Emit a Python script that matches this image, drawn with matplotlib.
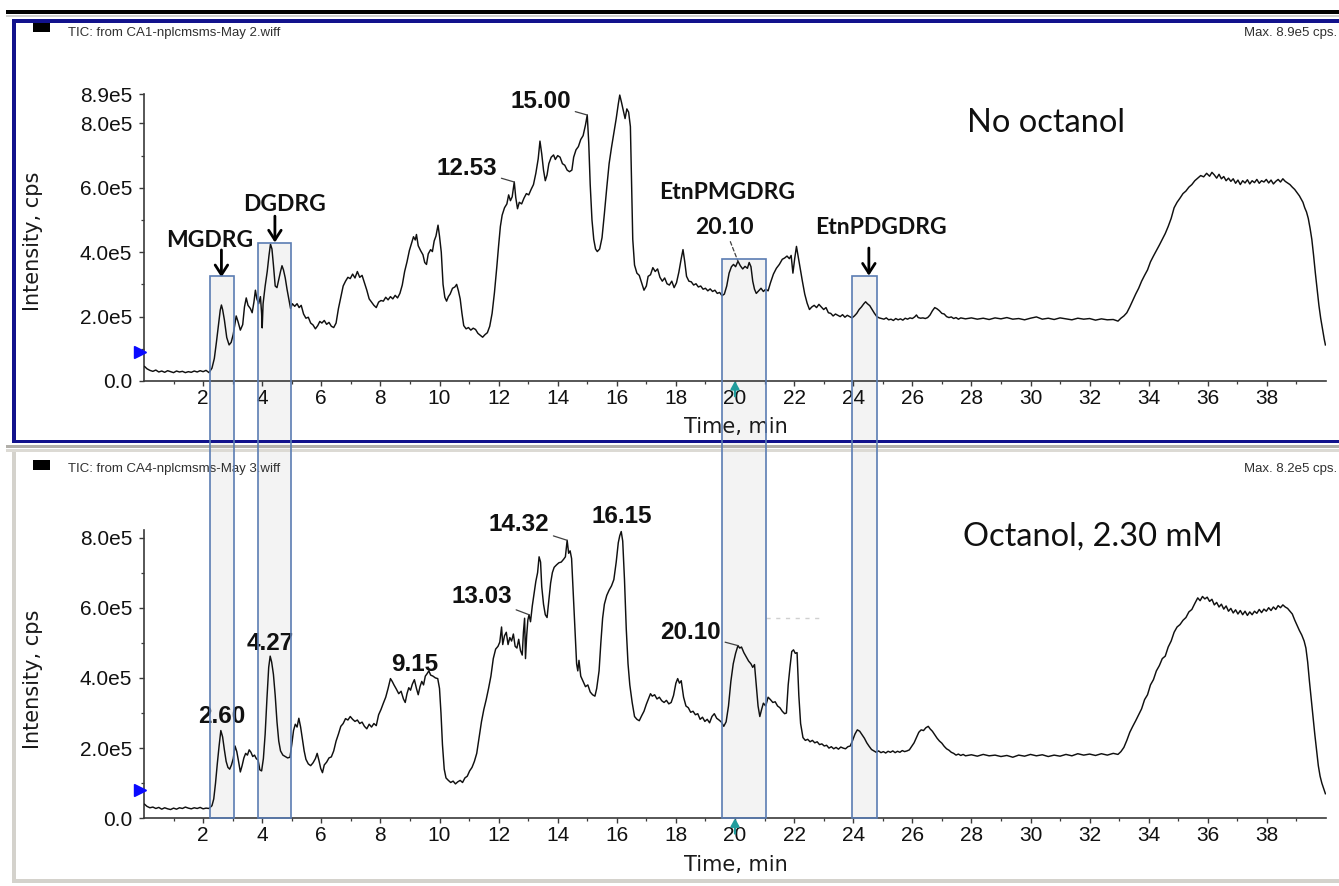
import numpy as np
import matplotlib
matplotlib.use("Agg")
import matplotlib.pyplot as plt
from matplotlib.patches import Rectangle
from matplotlib.transforms import offset_copy

# ---------------------------------------------------------------- data
# TIC trace without octanol (time in min, intensity in units of 1e5 cps)
top_time = [
    0.02, 0.10, 0.20, 0.30, 0.40, 0.50, 0.60, 0.70, 0.80, 0.90, 1.00, 1.10, 1.20, 1.30, 1.40,
    1.50, 1.60, 1.70, 1.80, 1.90, 2.00, 2.10, 2.20, 2.30, 2.38, 2.45, 2.52, 2.58, 2.62, 2.66,
    2.72, 2.80, 2.88, 2.95, 3.02, 3.08, 3.12, 3.18, 3.26, 3.34, 3.40, 3.46, 3.52, 3.60, 3.66,
    3.72, 3.77, 3.82, 3.88, 3.94, 3.98, 4.00, 4.03, 4.10, 4.17, 4.23, 4.28, 4.33, 4.38, 4.44,
    4.50, 4.56, 4.62, 4.67, 4.72, 4.78, 4.84, 4.90, 4.96, 5.02, 5.10, 5.18, 5.25, 5.32, 5.40,
    5.48, 5.56, 5.64, 5.72, 5.80, 5.88, 5.95, 6.02, 6.10, 6.18, 6.26, 6.34, 6.42, 6.50, 6.58,
    6.66, 6.74, 6.82, 6.90, 6.98, 7.06, 7.14, 7.22, 7.30, 7.38, 7.46, 7.54, 7.62, 7.70, 7.78,
    7.86, 7.94, 8.02, 8.10, 8.18, 8.26, 8.34, 8.42, 8.50, 8.58, 8.66, 8.74, 8.82, 8.90, 8.98,
    9.06, 9.12, 9.18, 9.22, 9.28, 9.36, 9.44, 9.50, 9.56, 9.62, 9.70, 9.76, 9.82, 9.88, 9.95,
    10.00, 10.06, 10.12, 10.18, 10.24, 10.30, 10.36, 10.44, 10.52, 10.58, 10.64, 10.70, 10.76,
    10.82, 10.90, 10.98, 11.06, 11.14, 11.22, 11.30, 11.38, 11.46, 11.54, 11.62, 11.70, 11.78,
    11.86, 11.94, 12.00, 12.06, 12.12, 12.20, 12.28, 12.34, 12.40, 12.46, 12.53, 12.58, 12.64,
    12.70, 12.78, 12.86, 12.94, 13.02, 13.10, 13.18, 13.26, 13.34, 13.40, 13.46, 13.52, 13.58,
    13.64, 13.70, 13.78, 13.86, 13.92, 14.00, 14.08, 14.16, 14.24, 14.32, 14.40, 14.48, 14.54,
    14.62, 14.70, 14.78, 14.86, 14.94, 15.00, 15.05, 15.10, 15.16, 15.22, 15.28, 15.34, 15.42,
    15.50, 15.58, 15.66, 15.74, 15.82, 15.90, 15.98, 16.05, 16.10, 16.16, 16.22, 16.28, 16.34,
    16.40, 16.46, 16.50, 16.54, 16.60, 16.68, 16.76, 16.84, 16.92, 17.00, 17.06, 17.14, 17.22,
    17.30, 17.38, 17.46, 17.54, 17.62, 17.70, 17.78, 17.86, 17.94, 18.02, 18.10, 18.18, 18.24,
    18.30, 18.36, 18.44, 18.52, 18.60, 18.68, 18.76, 18.84, 18.92, 19.00, 19.08, 19.16, 19.24,
    19.32, 19.40, 19.48, 19.56, 19.64, 19.72, 19.80, 19.88, 19.95, 20.02, 20.10, 20.18, 20.26,
    20.34, 20.42, 20.48, 20.54, 20.60, 20.66, 20.72, 20.80, 20.88, 20.96, 21.04, 21.12, 21.20,
    21.30, 21.40, 21.50, 21.60, 21.68, 21.76, 21.84, 21.90, 21.96, 22.02, 22.08, 22.14, 22.20,
    22.28, 22.36, 22.44, 22.52, 22.60, 22.68, 22.76, 22.84, 22.92, 23.00, 23.08, 23.16, 23.24,
    23.32, 23.40, 23.48, 23.56, 23.64, 23.72, 23.80, 23.88, 23.96, 24.04, 24.12, 24.20, 24.28,
    24.36, 24.42, 24.48, 24.56, 24.64, 24.72, 24.80, 24.88, 24.96, 25.04, 25.12, 25.20, 25.28,
    25.36, 25.44, 25.52, 25.60, 25.68, 25.76, 25.84, 25.92, 26.00, 26.08, 26.14, 26.20, 26.28,
    26.36, 26.44, 26.52, 26.60, 26.68, 26.76, 26.84, 26.92, 27.00, 27.08, 27.16, 27.24, 27.32,
    27.40, 27.48, 27.56, 27.64, 27.80, 28.00, 28.20, 28.40, 28.60, 28.80, 29.00, 29.20, 29.40,
    29.60, 29.80, 30.00, 30.20, 30.40, 30.60, 30.80, 31.00, 31.20, 31.40, 31.60, 31.80, 32.00,
    32.20, 32.40, 32.60, 32.80, 32.96, 33.06, 33.16, 33.26, 33.36, 33.46, 33.56, 33.66, 33.76,
    33.86, 33.96, 34.06, 34.16, 34.26, 34.36, 34.46, 34.56, 34.66, 34.76, 34.86, 34.96, 35.06,
    35.16, 35.26, 35.36, 35.46, 35.56, 35.66, 35.76, 35.86, 35.96, 36.06, 36.14, 36.22, 36.30,
    36.38, 36.46, 36.54, 36.62, 36.70, 36.78, 36.86, 36.94, 37.02, 37.10, 37.18, 37.26, 37.34,
    37.42, 37.50, 37.58, 37.66, 37.74, 37.82, 37.90, 37.98, 38.06, 38.14, 38.22, 38.30, 38.38,
    38.46, 38.54, 38.62, 38.70, 38.78, 38.86, 38.94, 39.02, 39.10, 39.16, 39.22, 39.28, 39.34,
    39.40, 39.46, 39.52, 39.58, 39.64, 39.70, 39.76, 39.82, 39.88, 39.94, 39.98,
]
top_intensity_e5 = [
    0.45, 0.38, 0.33, 0.30, 0.34, 0.28, 0.31, 0.27, 0.32, 0.29, 0.26, 0.31, 0.28, 0.30, 0.26,
    0.29, 0.27, 0.31, 0.28, 0.32, 0.29, 0.33, 0.26, 0.40, 0.70, 1.20, 1.75, 2.20, 2.36, 2.22,
    1.90, 1.35, 1.12, 1.20, 1.45, 1.80, 2.02, 1.85, 1.58, 1.75, 2.30, 2.58, 2.35, 2.25, 2.12,
    2.45, 2.82, 2.55, 2.40, 2.62, 2.10, 1.65, 2.40, 2.95, 3.40, 3.90, 4.25, 4.10, 3.60, 2.95,
    2.90, 3.15, 3.40, 3.58, 3.45, 3.20, 2.85, 2.55, 2.25, 2.40, 2.32, 2.40, 2.28, 2.35, 2.08,
    1.95, 1.98, 1.80, 1.74, 1.62, 1.72, 1.85, 1.80, 1.88, 1.76, 1.82, 1.70, 1.66, 1.80, 2.25,
    2.60, 2.95, 3.10, 3.22, 3.18, 3.32, 3.20, 3.40, 3.22, 3.28, 3.05, 2.82, 2.55, 2.45, 2.35,
    2.28, 2.45, 2.50, 2.48, 2.60, 2.52, 2.62, 2.55, 2.66, 2.58, 2.72, 2.98, 3.40, 3.70, 4.05,
    4.30, 4.48, 4.38, 4.55, 4.20, 4.05, 3.92, 3.68, 3.62, 3.95, 4.08, 4.02, 4.35, 4.50, 4.84,
    4.50, 4.00, 3.00, 2.60, 2.48, 2.62, 2.70, 2.88, 2.92, 3.00, 2.80, 2.55, 2.10,
    1.72, 1.62, 1.66, 1.58, 1.64, 1.60, 1.48, 1.42, 1.36, 1.44, 1.50, 1.70, 2.10,
    2.75, 3.55, 4.20, 4.80, 5.15, 5.38, 5.50, 5.78, 5.60, 5.72, 6.18, 5.70, 5.35,
    5.55, 5.50, 5.68, 5.82, 5.78, 5.95, 6.10, 6.45, 6.90, 7.45, 7.05, 6.55, 6.22,
    6.40, 6.75, 6.95, 7.02, 6.88, 7.00, 6.95, 6.75, 6.70, 6.55, 6.50, 6.55, 6.95,
    7.18, 7.28, 7.50, 7.62, 7.95, 8.26, 7.40, 6.10, 5.00, 4.40, 4.10, 4.02, 4.10,
    4.45, 5.20, 6.00, 6.75, 7.25, 7.70, 8.15, 8.60, 8.88, 8.65, 8.40, 8.15, 8.45,
    8.35, 7.90, 6.20, 4.40, 3.60, 3.35, 3.28, 3.05, 2.82, 2.95, 3.25, 3.30, 3.52,
    3.40, 3.48, 3.22, 3.10, 3.20, 3.02, 2.98, 3.10, 2.90, 3.05, 3.38, 3.80, 4.08,
    3.70, 3.25, 3.10, 3.08, 2.98, 3.02, 2.92, 2.95, 2.85, 2.88, 2.80, 2.86, 2.78,
    2.82, 2.72, 2.75, 2.65, 2.70, 2.95, 3.35, 3.55, 3.62, 3.55, 3.72, 3.58, 3.48,
    3.56, 3.50, 3.68, 3.55, 3.10, 2.85, 2.72, 2.80, 2.88, 2.78, 2.85, 2.80, 3.05,
    3.32, 3.50, 3.62, 3.78, 3.82, 3.88, 3.80, 3.90, 3.35, 3.80, 4.18, 3.85, 3.50,
    3.10, 2.70, 2.42, 2.22, 2.30, 2.35, 2.28, 2.38, 2.30, 2.22, 2.28, 2.12, 2.10,
    2.02, 2.08, 2.04, 2.00, 2.06, 1.98, 2.04, 2.00, 1.96, 2.02, 2.10, 2.22, 2.30,
    2.40, 2.46, 2.40, 2.34, 2.22, 2.10, 2.00, 1.96, 1.94, 1.92, 1.96, 1.90, 1.92,
    1.88, 1.94, 1.90, 1.93, 1.89, 1.95, 1.92, 1.96, 1.94, 1.99, 2.05, 1.97, 1.95,
    1.96, 1.94, 1.97, 2.05, 2.18, 2.28, 2.24, 2.18, 2.10, 2.08, 2.00, 1.97, 1.99,
    1.94, 1.97, 1.92, 1.96, 1.93, 1.96, 1.92, 1.95, 1.91, 1.96, 1.93, 1.97, 1.92,
    1.94, 1.90, 1.95, 1.99, 1.92, 1.95, 1.91, 1.96, 1.93, 1.90, 1.95, 1.92, 1.94,
    1.89, 1.93, 1.90, 1.91, 1.86, 1.95, 2.02, 2.12, 2.30, 2.50, 2.70, 2.88, 3.10,
    3.28, 3.45, 3.70, 3.88, 4.05, 4.22, 4.40, 4.58, 4.80, 5.05, 5.38, 5.55, 5.68,
    5.82, 5.90, 6.02, 6.10, 6.22, 6.30, 6.38, 6.34, 6.45, 6.36, 6.48, 6.40, 6.30,
    6.42, 6.28, 6.35, 6.22, 6.30, 6.20, 6.28, 6.14, 6.24, 6.10, 6.22, 6.15, 6.25,
    6.12, 6.22, 6.16, 6.26, 6.14, 6.22, 6.18, 6.26, 6.15, 6.24, 6.12, 6.20, 6.26,
    6.18, 6.28, 6.20, 6.15, 6.10, 6.02, 5.95, 5.85, 5.75, 5.65, 5.55, 5.38, 5.25,
    5.05, 4.75, 4.40, 3.90, 3.35, 2.85, 2.35, 1.95, 1.62, 1.30, 1.12,
]

# TIC trace with 2.30 mM octanol (time in min, intensity in units of 1e5 cps)
bottom_time = [
    0.02, 0.10, 0.20, 0.30, 0.40, 0.50, 0.60, 0.70, 0.80, 0.90, 1.00, 1.10, 1.20, 1.30, 1.40,
    1.50, 1.60, 1.70, 1.80, 1.90, 2.00, 2.10, 2.20, 2.30, 2.36, 2.42, 2.48, 2.54, 2.60, 2.66,
    2.72, 2.78, 2.84, 2.90, 2.96, 3.02, 3.08, 3.14, 3.20, 3.26, 3.32, 3.38, 3.44, 3.50, 3.56,
    3.62, 3.68, 3.74, 3.80, 3.86, 3.92, 3.98, 4.04, 4.10, 4.16, 4.22, 4.27, 4.32, 4.38, 4.44,
    4.50, 4.56, 4.62, 4.70, 4.78, 4.86, 4.94, 5.00, 5.06, 5.12, 5.18, 5.24, 5.30, 5.36, 5.42,
    5.48, 5.56, 5.64, 5.72, 5.80, 5.86, 5.92, 5.98, 6.04, 6.10, 6.18, 6.26, 6.34, 6.42, 6.50,
    6.58, 6.66, 6.74, 6.82, 6.90, 6.98, 7.06, 7.14, 7.22, 7.30, 7.38, 7.46, 7.54, 7.62, 7.70,
    7.78, 7.86, 7.94, 8.02, 8.10, 8.18, 8.26, 8.34, 8.40, 8.46, 8.54, 8.62, 8.70, 8.78, 8.84,
    8.90, 8.96, 9.02, 9.08, 9.15, 9.22, 9.28, 9.34, 9.40, 9.46, 9.52, 9.58, 9.64, 9.70, 9.78,
    9.86, 9.94, 10.00, 10.05, 10.10, 10.16, 10.22, 10.30, 10.38, 10.46, 10.54, 10.62, 10.70,
    10.78, 10.86, 10.94, 11.02, 11.10, 11.18, 11.26, 11.34, 11.42, 11.50, 11.58, 11.66, 11.74,
    11.82, 11.90, 11.98, 12.04, 12.10, 12.14, 12.20, 12.26, 12.32, 12.38, 12.44, 12.50, 12.56,
    12.62, 12.68, 12.74, 12.80, 12.84, 12.88, 12.91, 12.95, 12.99, 13.03, 13.08, 13.14, 13.20,
    13.26, 13.32, 13.37, 13.42, 13.46, 13.52, 13.58, 13.64, 13.70, 13.76, 13.82, 13.88, 13.96,
    14.04, 14.12, 14.20, 14.26, 14.32, 14.37, 14.42, 14.47, 14.52, 14.58, 14.64, 14.68, 14.72,
    14.78, 14.86, 14.94, 15.02, 15.10, 15.18, 15.26, 15.32, 15.40, 15.46, 15.52, 15.58, 15.66,
    15.74, 15.82, 15.90, 15.98, 16.05, 16.10, 16.15, 16.20, 16.26, 16.32, 16.38, 16.44, 16.52,
    16.60, 16.68, 16.76, 16.84, 16.92, 17.00, 17.08, 17.14, 17.20, 17.28, 17.36, 17.44, 17.52,
    17.60, 17.68, 17.76, 17.84, 17.92, 18.00, 18.06, 18.12, 18.18, 18.26, 18.34, 18.42, 18.50,
    18.58, 18.66, 18.74, 18.82, 18.90, 18.98, 19.06, 19.14, 19.22, 19.30, 19.38, 19.46, 19.54,
    19.62, 19.70, 19.78, 19.86, 19.94, 20.02, 20.10, 20.16, 20.22, 20.30, 20.38, 20.46, 20.54,
    20.60, 20.66, 20.72, 20.78, 20.84, 20.90, 20.96, 21.04, 21.12, 21.20, 21.28, 21.36, 21.44,
    21.52, 21.60, 21.68, 21.74, 21.80, 21.86, 21.92, 21.98, 22.04, 22.10, 22.16, 22.22, 22.30,
    22.38, 22.46, 22.54, 22.62, 22.70, 22.78, 22.86, 22.94, 23.02, 23.10, 23.18, 23.26, 23.34,
    23.42, 23.50, 23.58, 23.66, 23.74, 23.82, 23.90, 23.98, 24.06, 24.14, 24.22, 24.30, 24.38,
    24.46, 24.54, 24.62, 24.70, 24.78, 24.86, 24.94, 25.02, 25.10, 25.18, 25.26, 25.34, 25.42,
    25.50, 25.58, 25.66, 25.74, 25.82, 25.90, 25.98, 26.06, 26.14, 26.22, 26.30, 26.38, 26.46,
    26.54, 26.60, 26.68, 26.76, 26.84, 26.92, 27.00, 27.08, 27.16, 27.24, 27.32, 27.40, 27.48,
    27.56, 27.64, 27.72, 27.80, 28.00, 28.20, 28.40, 28.60, 28.80, 29.00, 29.20, 29.40, 29.60,
    29.80, 30.00, 30.20, 30.40, 30.60, 30.80, 31.00, 31.20, 31.40, 31.60, 31.80, 32.00, 32.20,
    32.40, 32.60, 32.80, 32.96, 33.06, 33.16, 33.26, 33.36, 33.46, 33.56, 33.66, 33.76, 33.86,
    33.96, 34.06, 34.16, 34.26, 34.36, 34.46, 34.56, 34.66, 34.76, 34.86, 34.96, 35.06, 35.16,
    35.26, 35.36, 35.46, 35.56, 35.66, 35.74, 35.82, 35.90, 35.98, 36.06, 36.14, 36.22, 36.30,
    36.38, 36.46, 36.54, 36.62, 36.70, 36.78, 36.86, 36.94, 37.02, 37.10, 37.18, 37.26, 37.34,
    37.42, 37.50, 37.58, 37.66, 37.74, 37.82, 37.90, 37.98, 38.06, 38.14, 38.22, 38.30, 38.38,
    38.46, 38.54, 38.62, 38.70, 38.78, 38.86, 38.94, 39.02, 39.10, 39.18, 39.26, 39.32, 39.38,
    39.44, 39.50, 39.56, 39.62, 39.68, 39.74, 39.80, 39.86, 39.92, 39.98,
]
bottom_intensity_e5 = [
    0.40, 0.34, 0.30, 0.32, 0.28, 0.31, 0.26, 0.30, 0.27, 0.25, 0.29, 0.26, 0.30, 0.28, 0.32,
    0.29, 0.27, 0.30, 0.28, 0.31, 0.27, 0.29, 0.28, 0.36, 0.55, 1.00, 1.55, 2.05, 2.50, 2.32,
    1.95, 1.62, 1.45, 1.40, 1.52, 1.70, 2.06, 1.90, 1.62, 1.32, 1.50, 1.72, 1.85, 1.80, 1.95,
    1.88, 1.76, 1.80, 1.70, 1.66, 1.38, 1.35, 1.70, 2.40, 3.40, 4.30, 4.62, 4.45, 4.10, 3.50,
    2.75, 2.20, 1.92, 1.80, 1.76, 1.72, 1.74, 2.10, 2.50, 2.68, 2.60, 2.85, 2.60, 2.25, 1.92,
    1.68, 1.55, 1.50, 1.58, 1.70, 1.85, 1.65, 1.42, 1.30, 1.52, 1.60, 1.72, 1.75, 1.92, 2.20,
    2.40, 2.62, 2.70, 2.84, 2.80, 2.90, 2.82, 2.76, 2.80, 2.70, 2.74, 2.62, 2.55, 2.68, 2.60,
    2.70, 2.64, 2.95, 3.10, 3.28, 3.45, 3.70, 3.98, 3.90, 3.80, 3.68, 3.55, 3.62, 3.40, 3.30,
    3.55, 3.72, 3.65, 3.82, 3.95, 3.70, 3.52, 3.75, 3.90, 3.80, 4.05, 4.12, 4.20, 4.08, 4.05,
    4.00, 3.98, 3.70, 3.00, 2.10, 1.40, 1.15, 1.08, 1.02, 1.06, 0.98, 1.04, 1.08,
    1.02, 1.15, 1.20, 1.35, 1.45, 1.62, 1.85, 2.30, 2.75, 3.10, 3.38, 3.70, 4.05,
    4.55, 4.82, 4.90, 5.02, 5.45, 4.95, 5.20, 5.30, 4.95, 5.15, 5.05, 5.25, 4.90,
    4.85, 5.10, 4.78, 4.65, 5.30, 5.70, 4.55, 5.20, 5.65, 5.80, 5.60, 6.05, 6.40,
    6.75, 7.00, 7.45, 7.30, 6.60, 6.10, 5.80, 5.72, 6.20, 6.70, 7.00, 7.15, 7.22,
    7.28, 7.30, 7.38, 7.45, 7.92, 7.55, 7.62, 7.40, 6.50, 5.40, 4.40, 4.20, 4.50,
    4.05, 3.90, 3.75, 3.80, 3.60, 3.52, 3.48, 3.70, 4.20, 5.00, 5.70, 6.10, 6.35,
    6.50, 6.62, 6.80, 7.30, 7.85, 8.05, 8.17, 7.90, 6.80, 5.40, 4.40, 3.80, 3.30,
    2.90, 2.82, 2.78, 2.92, 3.05, 3.25, 3.42, 3.55, 3.48, 3.52, 3.40, 3.45, 3.35,
    3.30, 3.36, 3.26, 3.30, 3.50, 3.85, 3.98, 3.85, 3.92, 3.45, 3.20, 3.15, 3.02,
    3.05, 2.95, 2.98, 2.82, 2.88, 2.76, 2.82, 2.72, 2.90, 2.98, 2.85, 2.80, 2.74,
    2.62, 2.75, 3.20, 3.90, 4.40, 4.70, 4.92, 4.85, 4.88, 4.72, 4.60, 4.48, 4.40,
    4.30, 4.38, 3.80, 3.20, 2.90, 3.10, 3.28, 3.20, 3.45, 3.38, 3.30, 3.32, 3.20,
    3.15, 3.05, 2.98, 3.00, 3.80, 4.30, 4.75, 4.80, 4.70, 4.72, 3.50, 2.70, 2.30,
    2.22, 2.25, 2.18, 2.22, 2.15, 2.18, 2.10, 2.12, 2.06, 2.08, 2.00, 2.04, 1.98,
    2.02, 1.97, 2.03, 2.00, 1.98, 2.04, 2.06, 2.22, 2.40, 2.52, 2.48, 2.38, 2.28,
    2.15, 2.05, 1.96, 1.92, 1.88, 1.92, 1.87, 1.90, 1.86, 1.91, 1.88, 1.92, 1.87,
    1.91, 1.88, 1.93, 1.90, 1.92, 1.95, 2.05, 2.15, 2.30, 2.45, 2.52, 2.50, 2.58,
    2.62, 2.55, 2.48, 2.38, 2.28, 2.20, 2.14, 2.05, 1.98, 1.94, 1.88, 1.85, 1.80,
    1.83, 1.79, 1.82, 1.78, 1.81, 1.77, 1.82, 1.78, 1.80, 1.76, 1.79, 1.74, 1.80,
    1.77, 1.82, 1.78, 1.81, 1.76, 1.80, 1.77, 1.82, 1.78, 1.84, 1.80, 1.83, 1.79,
    1.84, 1.80, 1.85, 1.82, 1.90, 2.02, 2.22, 2.45, 2.62, 2.78, 2.95, 3.12, 3.38,
    3.52, 3.80, 3.95, 4.20, 4.35, 4.55, 4.62, 4.88, 5.05, 5.30, 5.45, 5.52, 5.64,
    5.72, 5.88, 5.95, 6.12, 6.28, 6.20, 6.32, 6.25, 6.30, 6.18, 6.24, 6.08, 6.15,
    6.02, 6.10, 5.96, 6.05, 5.90, 5.98, 5.85, 5.94, 5.82, 5.92, 5.80, 5.90, 5.78,
    5.88, 5.80, 5.90, 5.84, 5.95, 5.86, 5.96, 5.90, 6.00, 5.92, 6.02, 5.95, 6.06,
    6.00, 6.08, 6.02, 5.98, 5.90, 5.82, 5.65, 5.50, 5.35, 5.22, 5.05, 4.85, 4.45,
    3.90, 3.40, 2.90, 2.40, 1.95, 1.50, 1.20, 1.00, 0.85, 0.70,
]

x_ticks = [2, 4, 6, 8, 10, 12, 14, 16, 18, 20, 22, 24, 26, 28, 30, 32, 34, 36, 38]
top_ytick_e5 = [0.0, 2.0, 4.0, 6.0, 8.0, 8.9]
top_ytick_labels = ["0.0", "2.0e5", "4.0e5", "6.0e5", "8.0e5", "8.9e5"]
bottom_ytick_e5 = [0.0, 2.0, 4.0, 6.0, 8.0]
bottom_ytick_labels = ["0.0", "2.0e5", "4.0e5", "6.0e5", "8.0e5"]
top_max_e5 = 8.9
bottom_max_e5 = 8.2

# highlighted retention windows (min) and the top of each window (1e5 cps)
window_start = [2.22, 3.87, 19.55, 23.96]
window_end = [3.05, 4.96, 21.06, 24.79]
window_top_e5 = [3.26, 4.29, 3.79, 3.26]

top_header = "TIC: from CA1-nplcmsms-May 2.wiff"
bottom_header = "TIC: from CA4-nplcmsms-May 3.wiff"
top_max_text = "Max. 8.9e5 cps."
bottom_max_text = "Max. 8.2e5 cps."

# ---------------------------------------------------------------- figure
W, H = 1339, 886
plt.rcParams["font.family"] = ["Liberation Sans", "DejaVu Sans"]
fig = plt.figure(figsize=(W / 100, H / 100), dpi=100)
fig.patch.set_facecolor("white")


def fx(px):
    return px / W


def fy(py):
    return 1 - py / H


def pixel_box(x0, y0, x1, y1, color, z=-0.5):
    fig.add_artist(Rectangle((fx(x0), fy(y1)), fx(x1) - fx(x0), fy(y0) - fy(y1),
                             transform=fig.transFigure, facecolor=color,
                             edgecolor="none", zorder=z))


# window chrome of the two chromatogram panes
pixel_box(6, 10, W, 14, "black")
pixel_box(6, 15, W, 17, "#cfcfcf")
pixel_box(12, 19, W, 22.5, "#12128c")
pixel_box(12, 19, 15.5, 443, "#12128c")
pixel_box(12, 440, W, 443, "#12128c")
pixel_box(6, 445, W, 448, "#b2b0aa")
pixel_box(6, 449, W, 452, "#dcdad4")
pixel_box(12, 452, 16, 883, "#d4d2cc")
pixel_box(12, 879, W, 883, "#d4d2cc")
pixel_box(33, 23, 50, 32, "black", z=2)
pixel_box(33, 460, 50, 470, "black", z=2)

ax_top = fig.add_axes([fx(144), fy(381), fx(1326) - fx(144), top_max_e5 * 32.2 / H])
ax_bot = fig.add_axes([fx(144), fy(818.3), fx(1326) - fx(144), bottom_max_e5 * 35.1 / H])

for ax, t, v, ymax, yt, ytl in (
        (ax_top, top_time, top_intensity_e5, top_max_e5, top_ytick_e5, top_ytick_labels),
        (ax_bot, bottom_time, bottom_intensity_e5, bottom_max_e5, bottom_ytick_e5, bottom_ytick_labels)):
    ax.set_facecolor("none")
    ax.plot(t, np.array(v) * 1e5, color="#101010", lw=1.05, zorder=3)
    ax.set_xlim(0, 40)
    ax.set_ylim(0, ymax * 1e5)
    for s in ("top", "right"):
        ax.spines[s].set_visible(False)
    for s in ("left", "bottom"):
        ax.spines[s].set_color("#3a3a3a")
        ax.spines[s].set_linewidth(1.2)
    ax.set_xticks(x_ticks)
    ax.set_xticklabels([str(x) for x in x_ticks])
    ax.set_xticks(list(range(1, 40, 2)), minor=True)
    ax.set_yticks([y * 1e5 for y in yt])
    ax.set_yticklabels(ytl)
    ax.set_yticks([1e5, 3e5, 5e5, 7e5], minor=True)
    ax.tick_params(axis="both", which="major", length=3.5, width=1.0, color="#3a3a3a",
                   labelsize=15, labelcolor="#111111")
    ax.tick_params(axis="x", which="major", pad=2)
    ax.tick_params(axis="y", which="major", pad=5)
    ax.tick_params(axis="both", which="minor", length=2.2, width=0.9, color="#3a3a3a")

    # teal arrow at the 20 min cursor
    ax.annotate("", xy=(20, 0), xycoords="data", xytext=(0, -11), textcoords="offset points",
                arrowprops=dict(arrowstyle="-|>,head_length=0.45,head_width=0.25",
                                color="#1f9c9c", lw=1.6, shrinkA=0, shrinkB=0),
                annotation_clip=False, zorder=6)

# start-of-trace markers on the intensity axes
ax_top.plot([0], [0.91e5], marker=">", color="#0a0aff", ms=8, clip_on=False, zorder=6,
            transform=offset_copy(ax_top.transData, fig=fig, x=-4, y=0, units="dots"))
ax_bot.plot([0], [0.80e5], marker=">", color="#0a0aff", ms=8, clip_on=False, zorder=6,
            transform=offset_copy(ax_bot.transData, fig=fig, x=-4, y=0, units="dots"))

# faint cursor trace in the lower pane
ax_bot.plot([21.06, 22.96], [5.7e5, 5.7e5], color="#d0d0d0", lw=1.0, ls=(0, (3, 4)), zorder=2)

# highlighted windows spanning both panes
inv = fig.transFigure.inverted()
for x0, x1, top in zip(window_start, window_end, window_top_e5):
    fx0, fyt = inv.transform(ax_top.transData.transform((x0, top * 1e5)))
    fx1, fyb = inv.transform(ax_bot.transData.transform((x1, 0)))
    fig.add_artist(Rectangle((fx0, fyb), fx1 - fx0, fyt - fyb, transform=fig.transFigure,
                             facecolor="#f3f3f3", edgecolor="none", zorder=-1))
    fig.add_artist(Rectangle((fx0, fyb), fx1 - fx0, fyt - fyb, transform=fig.transFigure,
                             facecolor="none", edgecolor="#5b7db3", lw=1.2, zorder=5))


def value_at(times, vals, t):
    i = int(np.argmin(np.abs(np.array(times) - t)))
    return vals[i] * 1e5


num_font = dict(family="Liberation Sans", fontweight="bold", fontsize=17.5, color="#111111")
lab_font = dict(family="Lato", fontweight="bold", fontsize=16.5, color="#111111")
lead = dict(arrowstyle="-", color="#404040", lw=0.9, shrinkA=1, shrinkB=0)

# ---- upper pane labels
ax_top.annotate("12.53", xy=(12.53, value_at(top_time, top_intensity_e5, 12.53)),
                xytext=(10.93, 6.61e5), ha="center", va="center", arrowprops=lead, **num_font)
ax_top.annotate("15.00", xy=(15.00, value_at(top_time, top_intensity_e5, 15.00)),
                xytext=(13.43, 8.67e5), ha="center", va="center", arrowprops=lead, **num_font)
ax_top.annotate("20.10", xy=(20.10, value_at(top_time, top_intensity_e5, 20.10)),
                xytext=(19.65, 4.78e5), ha="center", va="center",
                arrowprops=dict(arrowstyle="-", color="#404040", lw=0.9, ls=(0, (3, 2)),
                                shrinkA=1, shrinkB=0), **lab_font)
ax_top.text(19.74, 5.84e5, "EtnPMGDRG", ha="center", va="center", **lab_font)

arrow = dict(arrowstyle="->,head_length=0.7,head_width=0.45", color="black", lw=2.0,
             shrinkA=0, shrinkB=0)
for name, tx, ty, ax_t, tail, tip in (
        ("MGDRG", 2.22, 4.35e5, 2.62, 4.07e5, 3.22e5),
        ("DGDRG", 4.74, 5.47e5, 4.43, 5.12e5, 4.30e5),
        ("EtnPDGDRG", 24.93, 4.78e5, 24.53, 4.13e5, 3.27e5)):
    ax_top.text(tx, ty, name, ha="center", va="center", **lab_font)
    ax_top.annotate("", xy=(ax_t, tip), xytext=(ax_t, tail), arrowprops=arrow, zorder=6)

ax_top.text(30.53, 8.01e5, "No octanol", ha="center", va="center",
            family="Lato", fontsize=23.5, color="#101010")

# ---- lower pane labels
for lbl, tx, ty in (("2.60", 2.64, 2.89e5), ("4.27", 4.26, 4.99e5),
                    ("9.15", 9.15, 4.37e5), ("16.15", 16.17, 8.61e5)):
    ax_bot.text(tx, ty, lbl, ha="center", va="center", **num_font)
for lbl, tx, ty in (("13.03", 11.43, 6.31e5), ("14.32", 12.69, 8.36e5),
                    ("20.10", 18.50, 5.28e5)):
    t = float(lbl)
    ax_bot.annotate(lbl, xy=(t, value_at(bottom_time, bottom_intensity_e5, t)),
                    xytext=(tx, ty), ha="center", va="center", arrowprops=lead,
                    annotation_clip=False, **num_font)

ax_bot.text(32.1, 8.02e5, "Octanol, 2.30 mM", ha="center", va="center",
            family="Lato", fontsize=23.5, color="#101010")

# ---- pane headers and axis titles
hdr = dict(family="Liberation Sans", fontsize=9.5, color="#303030", va="center")
fig.text(fx(68), fy(33), top_header, ha="left", **hdr)
fig.text(fx(68), fy(469), bottom_header, ha="left", **hdr)
fig.text(fx(1337), fy(33), top_max_text, ha="right", **hdr)
fig.text(fx(1337), fy(469), bottom_max_text, ha="right", **hdr)

axis_font = dict(family="DejaVu Sans", fontsize=15, color="#1a1a1a")
fig.text(fx(33), fy(241.5), "Intensity, cps", rotation=90, ha="center", va="center", **axis_font)
fig.text(fx(33), fy(679), "Intensity, cps", rotation=90, ha="center", va="center", **axis_font)
fig.text(fx(736), fy(427), "Time, min", ha="center", va="center", **axis_font)
fig.text(fx(736), fy(865), "Time, min", ha="center", va="center", **axis_font)

fig.savefig("out.png", dpi=100)
